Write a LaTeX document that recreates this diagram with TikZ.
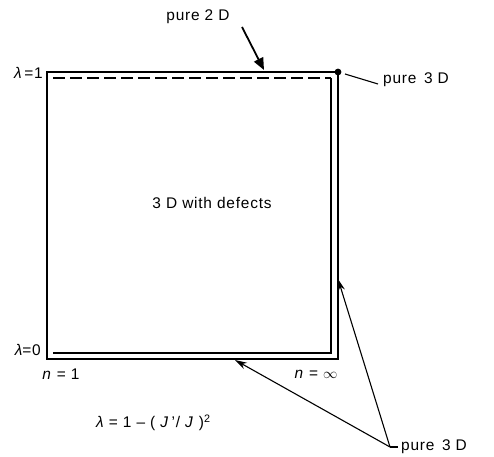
\documentclass[tikz,border=0pt]{standalone}
\usepackage{fontspec}
\setmainfont{Liberation Sans}[LetterSpace=5]
\usetikzlibrary{arrows.meta}
\newcommand{\lam}{{\itshape λ}}
\begin{document}
\begin{tikzpicture}[x=1bp,y=-1bp,
  frame/.style={line width=1.6bp},
  lbl/.style={inner sep=0pt,font=\fontsize{15.5}{17}\selectfont},
  ptr/.style={line width=1.1bp,-{Stealth[length=12bp,width=7bp]}},
  bigptr/.style={line width=1.8bp,-{Triangle[length=12bp,width=10bp]}},
  lead/.style={line width=1.1bp}]
\useasboundingbox (0,0) rectangle (494,457);
% outer frame
\draw[frame] (47,72) rectangle (338,359);
% inner pure-3D edges (double line at n=inf and lambda=0)
\coordinate (itr) at (331,78);
\coordinate (ibl) at (53,353);
\draw[frame] (itr) -- (331,353) -- (ibl);
% dashed top (pure 2D)
\draw[line width=2.6bp,dash pattern=on 12bp off 5bp] (53,78) -- (itr);
% corner dot
\fill (338,72) circle (3.4bp) coordinate (dot);
% labels
\node[lbl] (p2d) at (198,17) {pure 2 D};
\node[lbl,anchor=west] (p3da) at (383,80) {pure\, 3 D};
\node[lbl] (mid) at (212,203) {3 D with defects};
\node[lbl,anchor=east] (l1) at (43,73) {\lam\,=1};
\node[lbl,anchor=east] (l0) at (41,350) {\lam=0};
\node[lbl] (n1) at (61,374) {\textit{n} = 1};
\node[lbl] (ninf) at (316,374) {\textit{n} = $\infty$};
\node[lbl,anchor=west] (form) at (96,423) {\lam\ = 1 -- ( \textit{J}\,'/ \textit{J} )\textsuperscript{2}};
\node[lbl,anchor=west] (p3db) at (401,447) {pure\, 3 D};
% connectors
\coordinate (s2d) at (242,27);
\coordinate (t2d) at (264,70);
\draw[bigptr] (s2d) -- (t2d);
\draw[lead] (345,74) -- (378,84);
\coordinate (j) at (390,447);
\coordinate (tb) at (235,360);
\coordinate (tr) at (338,279);
\draw[lead] (j) -- (398,447);
\draw[ptr] (j) -- (tb);
\draw[ptr] (j) -- (tr);
\end{tikzpicture}
\end{document}
